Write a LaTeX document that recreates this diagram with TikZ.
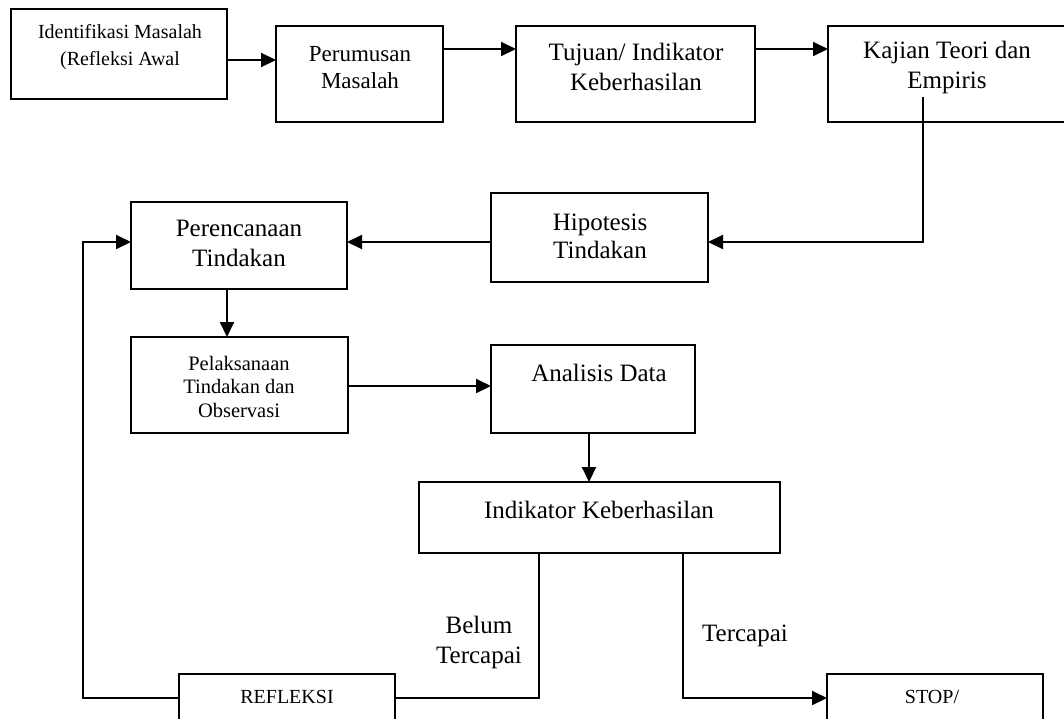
\documentclass[tikz,border=0pt]{standalone}
\usepackage{fontspec}
\setmainfont{Liberation Serif}
\usetikzlibrary{arrows.meta}
\begin{document}
\begin{tikzpicture}[x=1pt,y=-1pt,
  box/.style={draw, line width=2.1pt, inner sep=0pt, outer sep=0pt},
  txt/.style={align=center, inner sep=0pt},
  big/.style={txt, font=\fontsize{25}{30}\selectfont},
  conn/.style={line width=2pt},
  arr/.style={conn, -{Triangle[length=15pt,width=14pt]}}
]
\useasboundingbox (0,0) rectangle (1064,718);
% boxes
\node[box, minimum width=216pt, minimum height=90pt] (p1) at (119,54) {};
\node[box, minimum width=167pt, minimum height=96pt] (p2) at (359.5,74) {};
\node[box, minimum width=239pt, minimum height=96pt] (p3) at (635.5,74) {};
\node[box, minimum width=240pt, minimum height=96pt] (p4) at (948,74) {};
\node[box, minimum width=217pt, minimum height=89pt] (h) at (599.5,237.5) {};
\node[box, minimum width=216pt, minimum height=87pt] (pr) at (239,245.5) {};
\node[box, minimum width=217pt, minimum height=96pt] (pl) at (239.5,385) {};
\node[box, minimum width=204pt, minimum height=88pt] (an) at (593,389) {};
\node[box, minimum width=361pt, minimum height=71pt] (ik) at (599.5,517.5) {};
\node[box, minimum width=216pt, minimum height=70pt] (rf) at (287,709) {};
\node[box, minimum width=216pt, minimum height=70pt] (st) at (935,709) {};
% texts
\node[txt, font=\fontsize{20}{27}\selectfont] (t1) at (120,47.5) {Identifikasi Masalah\\(Refleksi Awal};
\node[txt, font=\fontsize{23}{27}\selectfont] (t2) at (360,67.5) {Perumusan\\Masalah};
\node[big] (t3) at (636,66.5) {Tujuan/ Indikator\\Keberhasilan};
\node[big] (t4) at (947,67) {Kajian Teori dan\\Empiris};
\node[txt, font=\fontsize{25}{28}\selectfont] (t5) at (600,236.5) {Hipotesis\\Tindakan};
\node[big] (t6) at (239,243) {Perencanaan\\Tindakan};
\node[txt, font=\fontsize{20.5}{23.5}\selectfont] (t7) at (239,386.5) {Pelaksanaan\\Tindakan dan\\Observasi};
\node[big] (t8) at (599,373) {Analisis Data};
\node[big] (t9) at (599,510) {Indikator Keberhasilan};
\node[txt, font=\fontsize{20}{24}\selectfont] (t10) at (287,697) {REFLEKSI};
\node[txt, font=\fontsize{20}{24}\selectfont] (t11) at (932,697) {STOP/};
\node[big] (t12) at (479,642) {Belum\\Tercapai};
\node[big] (t13) at (745,636) {Tercapai};
% connectors
\coordinate (kstart) at (923,97);
\coordinate (loop) at (83,242);
\draw[arr] (p1.east |- 0,60) -- (p2.west |- 0,60);
\draw[arr] (p2.east |- 0,49) -- (p3.west |- 0,49);
\draw[arr] (p3.east |- 0,49) -- (p4.west |- 0,49);
\draw[arr] (kstart) |- (h.east |- 0,242);
\draw[arr] (h.west |- 0,242) -- (pr.east |- 0,242);
\draw[arr] (pr.south -| 227,0) -- (pl.north -| 227,0);
\draw[arr] (pl.east |- 0,386) -- (an.west |- 0,386);
\draw[arr] (an.south -| 589,0) -- (ik.north -| 589,0);
\draw[conn] (ik.south -| 539,0) |- (rf.east |- 0,698);
\draw[arr] (ik.south -| 683,0) |- (st.west |- 0,698);
\draw[arr] (rf.west |- 0,698) -| (loop) -- (pr.west |- loop);
\end{tikzpicture}
\end{document}
